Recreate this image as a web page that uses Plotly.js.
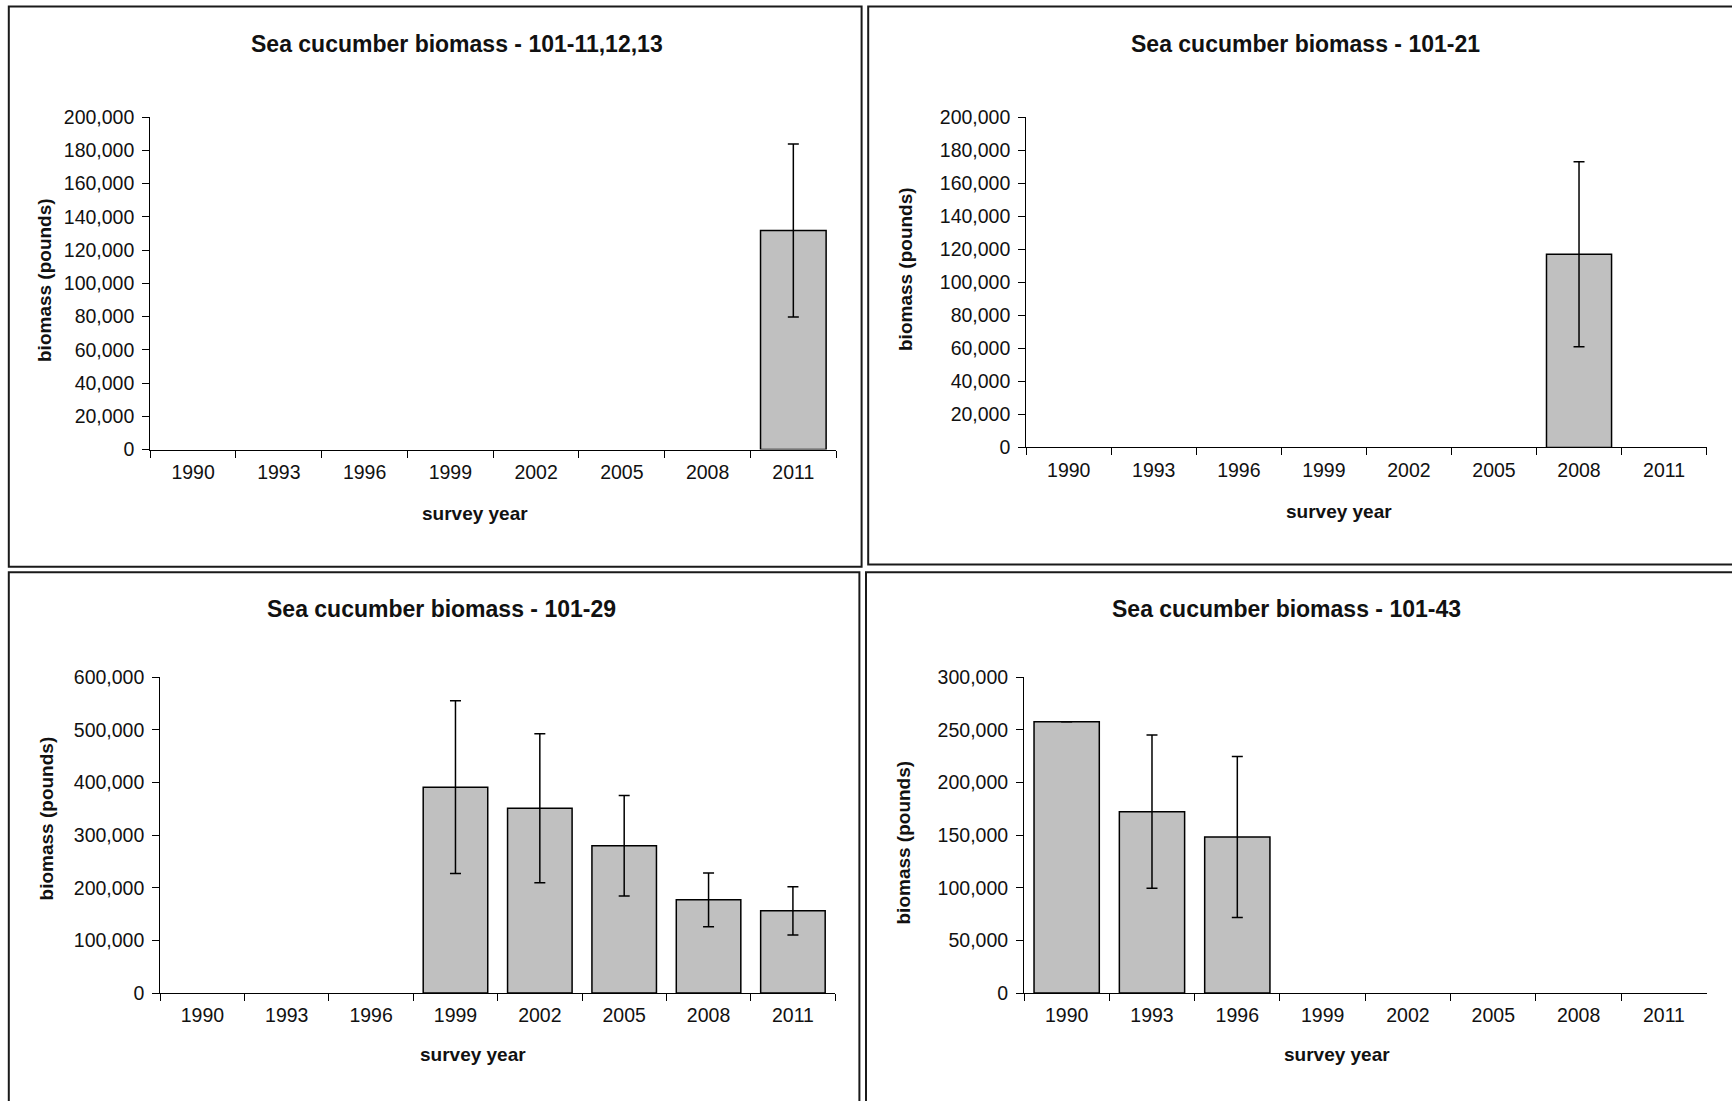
<!DOCTYPE html>
<html>
<head>
<meta charset="utf-8">
<script src="https://cdn.plot.ly/plotly-3.0.1.min.js"></script>
<style>
  html, body { margin: 0; padding: 0; background: #ffffff; }
  #chart { width: 1732px; height: 1101px; }
</style>
</head>
<body>
<div id="chart"></div>
<script>
// ---- data ----
const years = ['1990', '1993', '1996', '1999', '2002', '2005', '2008', '2011'];

const titleA = 'Sea cucumber biomass - 101-11,12,13';
const biomassA = [null, null, null, null, null, null, null, 131800];
const errorA   = [null, null, null, null, null, null, null, 52000];

const titleB = 'Sea cucumber biomass - 101-21';
const biomassB = [null, null, null, null, null, null, 117000, null];
const errorB   = [null, null, null, null, null, null, 56000, null];

const titleC = 'Sea cucumber biomass - 101-29';
const biomassC = [null, null, null, 391000, 351000, 279500, 177000, 156000];
const errorC   = [null, null, null, 164000, 141500, 95500, 51000, 46000];

const titleD = 'Sea cucumber biomass - 101-43';
const biomassD = [257500, 172200, 148200, null, null, null, null, null];
const errorD   = [null, 72800, 76500, null, null, null, null, null];

const yMax  = [200000, 200000, 600000, 300000];
const yStep = [20000, 20000, 100000, 50000];

// ---- layout helpers (pixel -> paper) ----
const W = 1732, H = 1101;
const px = v => v / W;
const py = v => 1 - v / H;

const FONT = 'Liberation Sans, Arial, Helvetica, sans-serif';
const TXT = '#111111';

function bars(y, err, xa, ya) {
  return {
    type: 'bar', x: years, y: y, xaxis: xa, yaxis: ya,
    marker: { color: '#c0c0c0', line: { color: '#000000', width: 1.5 } },
    error_y: { type: 'data', array: err, visible: true, color: '#000000', thickness: 1.5, width: 5.5 },
    hoverinfo: 'skip'
  };
}

const data = [
  bars(biomassA, errorA, 'x', 'y'),
  bars(biomassB, errorB, 'x2', 'y2'),
  bars(biomassC, errorC, 'x3', 'y3'),
  bars(biomassD, errorD, 'x4', 'y4')
];

function xAxis(l, r, anchor) {
  return {
    domain: [px(l), px(r)], anchor: anchor, type: 'category',
    categoryorder: 'array', categoryarray: years,
    range: [-0.5, 7.5], tickson: 'boundaries', ticks: 'outside', ticklen: 7,
    tickcolor: '#000', tickwidth: 1, showline: true, linecolor: '#000', linewidth: 1,
    showgrid: false, zeroline: false, fixedrange: true,
    tickfont: { family: FONT, size: 19.5, color: TXT }, ticklabelstandoff: 5
  };
}
function yAxis(b, t, anchor, i) {
  return {
    domain: [py(b), py(t)], anchor: anchor, range: [0, yMax[i]],
    tick0: 0, dtick: yStep[i], tickformat: ',d', ticks: 'outside', ticklen: 7,
    tickcolor: '#000', tickwidth: 1, showline: true, linecolor: '#000', linewidth: 1,
    showgrid: false, zeroline: false, fixedrange: true,
    tickfont: { family: FONT, size: 19.5, color: TXT }, ticklabelstandoff: 4
  };
}

function txt(text, x, y, size, angle) {
  return {
    text: '<b>' + text + '</b>', xref: 'paper', yref: 'paper', x: px(x), y: py(y),
    xanchor: 'center', yanchor: 'middle', showarrow: false, textangle: angle || 0,
    font: { family: FONT, size: size, color: TXT }
  };
}

function box(x0, y0, x1, y1) {
  return {
    type: 'rect', xref: 'paper', yref: 'paper',
    x0: px(x0), x1: px(x1), y0: py(y1), y1: py(y0),
    line: { color: '#1a1a1a', width: 2 }, fillcolor: 'rgba(0,0,0,0)', layer: 'below'
  };
}

const layout = {
  width: W, height: H, margin: { l: 0, r: 0, t: 0, b: 0 },
  paper_bgcolor: '#ffffff', plot_bgcolor: 'rgba(0,0,0,0)',
  showlegend: false, hovermode: false, bargap: 0.235,
  separators: '.,',
  font: { family: FONT, color: TXT },
  xaxis:  xAxis(150.2, 836.2, 'y'),
  yaxis:  yAxis(449.6, 117.1, 'x', 0),
  xaxis2: xAxis(1026.2, 1706.6, 'y2'),
  yaxis2: yAxis(447.4, 117.1, 'x2', 1),
  xaxis3: xAxis(160.2, 835.1, 'y3'),
  yaxis3: yAxis(993.0, 677.1, 'x3', 2),
  xaxis4: xAxis(1024.0, 1706.6, 'y4'),
  yaxis4: yAxis(993.0, 677.1, 'x4', 3),
  shapes: [
    box(8.8, 6.6, 861.6, 566.7),
    box(868.2, 6.6, 1745, 564.5),
    box(8.8, 572.2, 859.4, 1115),
    box(866.0, 572.2, 1745, 1115)
  ],
  annotations: [
    txt(titleA, 457, 44.2, 23),
    txt(titleB, 1305, 44.2, 23),
    txt(titleC, 441, 608.6, 23),
    txt(titleD, 1286, 608.6, 23),
    txt('survey year', 475, 513.6, 19),
    txt('survey year', 1339, 511.4, 19),
    txt('survey year', 473, 1054.9, 19),
    txt('survey year', 1337, 1054.9, 19),
    txt('biomass (pounds)', 44, 280, 19, -90),
    txt('biomass (pounds)', 906, 269, 19, -90),
    txt('biomass (pounds)', 46.4, 818, 19, -90),
    txt('biomass (pounds)', 902.5, 843, 19, -90)
  ]
};

Plotly.newPlot('chart', data, layout, { staticPlot: true, displayModeBar: false });
</script>
</body>
</html>
